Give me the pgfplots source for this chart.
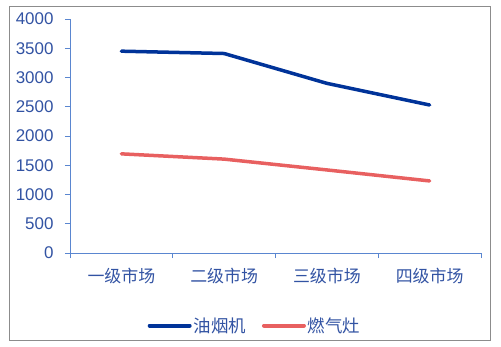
\documentclass[border=0pt]{standalone}
\usepackage{fontspec}
\setmainfont{Liberation Sans}
\newfontfamily\cjk{Noto Sans CJK SC}
\usepackage{pgfplots}
\pgfplotsset{compat=1.18}
\definecolor{lblue}{HTML}{003399}
\definecolor{lred}{HTML}{E86060}
\definecolor{txt}{HTML}{3253A3}
\definecolor{axc}{HTML}{5A86D0}
\begin{document}
\begin{tikzpicture}[x=1bp,y=1bp]
\useasboundingbox (-70,-93) rectangle (431,253);
\draw[gray!90, line width=1bp] (-60,-87) rectangle (420,247);
\begin{axis}[
  at={(0,0)}, anchor=south west,
  scale only axis, width=411bp, height=234bp,
  xmin=-0.5, xmax=3.5, ymin=0, ymax=4000,
  axis x line=bottom, axis y line=left,
  axis line style={axc, -, line width=0.8bp},
  xtick={-0.5,0.5,1.5,2.5,3.5}, xticklabels={},
  extra x ticks={0,1,2,3}, extra x tick labels={一级市场,二级市场,三级市场,四级市场},
  extra x tick style={major tick length=0bp, tick style={draw=none},
    tick label style={font=\cjk\fontsize{17}{17}\selectfont, text=txt, yshift=-12bp}},
  ytick={0,500,...,4000},
  y tick label style={font=\fontsize{17}{17}\selectfont, text=txt, xshift=-8bp},
  /pgf/number format/assume math mode=true,
  /pgf/number format/set thousands separator={},
  tick style={axc, line width=0.8bp},
  tick align=outside, major tick length=5bp,
  legend style={draw=none, at={(0.45,-0.31)}, anchor=center, legend columns=2,
    font=\cjk\fontsize{17.5}{17.5}\selectfont, text=txt,
    /tikz/every even column/.append style={column sep=14bp}},
  legend image code/.code={\draw[#1, line width=4bp, line cap=round] (0bp,0bp) -- (40bp,0bp);},
]
\addplot[lblue, line width=3.5bp, line cap=round] coordinates {(0,3450) (1,3410) (2,2900) (3,2530)};
\addlegendentry{油烟机}
\addplot[lred, line width=3.5bp, line cap=round] coordinates {(0,1695) (1,1605) (2,1420) (3,1232)};
\addlegendentry{燃气灶}
\end{axis}
\end{tikzpicture}
\end{document}
